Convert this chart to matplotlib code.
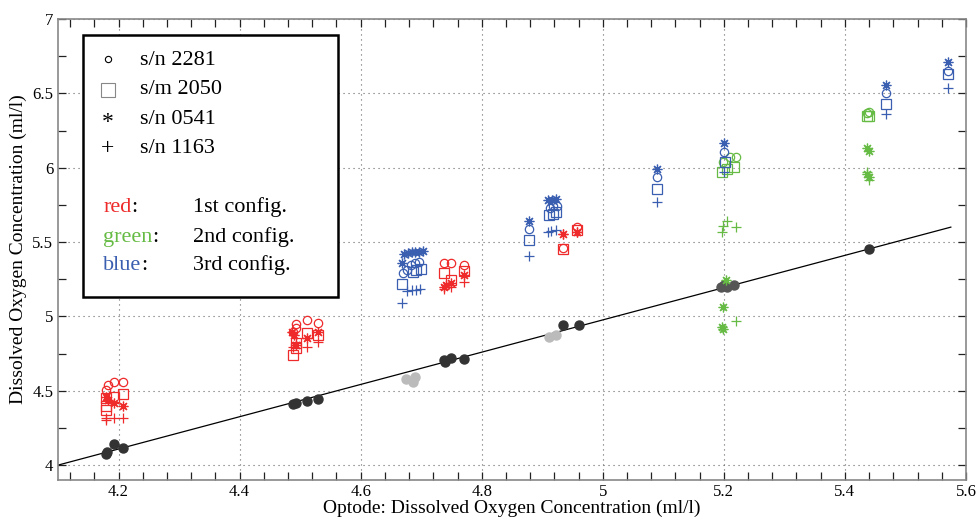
import matplotlib.pyplot as plt
from matplotlib.patches import Rectangle
from matplotlib.ticker import MultipleLocator

plt.rcParams['font.family'] = ['Liberation Serif', 'DejaVu Serif']

# reference (lab) values vs optode
ref_dark = [(4.18, 4.073), (4.181, 4.086), (4.192, 4.14), (4.208, 4.113),
            (4.489, 4.409), (4.493, 4.42), (4.512, 4.43), (4.53, 4.443),
            (4.737, 4.705), (4.739, 4.692), (4.749, 4.719), (4.77, 4.712),
            (4.935, 4.94), (4.96, 4.94), (5.44, 5.452)]
ref_light = [(4.675, 4.577), (4.686, 4.557), (4.69, 4.59),
             (4.911, 4.86), (4.922, 4.873)]
ref_mid = [(5.196, 5.197), (5.201, 5.21), (5.205, 5.2), (5.217, 5.21)]

fit_slope = 1.085
fit_intercept = -0.4485
fit_range = [4.1, 5.575]

# 1st config (red)
red_o = [(4.182, 4.537), (4.192, 4.557), (4.208, 4.557), (4.18, 4.503),
         (4.489, 4.893), (4.493, 4.947), (4.493, 4.92), (4.512, 4.975), (4.53, 4.954),
         (4.737, 5.358), (4.749, 5.358), (4.77, 5.345),
         (4.935, 5.462), (4.958, 5.60)]
red_s = [(4.18, 4.449), (4.18, 4.396), (4.18, 4.37), (4.192, 4.456), (4.208, 4.476),
         (4.489, 4.739), (4.493, 4.786), (4.493, 4.82), (4.512, 4.887), (4.53, 4.873),
         (4.737, 5.29), (4.749, 5.244), (4.77, 5.304),
         (4.935, 5.452), (4.958, 5.578)]
red_a = [(4.18, 4.456), (4.183, 4.435), (4.192, 4.42), (4.208, 4.40),
         (4.487, 4.893), (4.49, 4.873), (4.493, 4.806), (4.512, 4.853), (4.53, 4.893),
         (4.737, 5.197), (4.741, 5.21), (4.749, 5.224), (4.77, 5.277),
         (4.935, 5.553), (4.958, 5.565)]
red_p = [(4.18, 4.32), (4.18, 4.30), (4.192, 4.32), (4.208, 4.32),
         (4.489, 4.793), (4.493, 4.826), (4.512, 4.793), (4.53, 4.826),
         (4.737, 5.183), (4.749, 5.197), (4.77, 5.23),
         (4.935, 5.553), (4.958, 5.57)]

# 2nd config (green)
green_o = [(5.198, 6.04), (5.21, 6.07), (5.22, 6.07),
           (5.437, 6.37), (5.44, 6.375)]
green_s = [(5.197, 5.97), (5.205, 5.99), (5.217, 6.005),
           (5.437, 6.345), (5.44, 6.35)]
green_a = [(5.203, 5.244), (5.198, 5.06), (5.197, 4.927), (5.199, 4.913),
           (5.437, 6.13), (5.44, 6.11), (5.437, 5.96), (5.44, 5.94)]
green_p = [(5.197, 5.567), (5.199, 5.61), (5.205, 5.64), (5.22, 5.60),
           (5.22, 4.97), (5.437, 5.97), (5.44, 5.92)]

# 3rd config (blue)
blue_o = [(4.670, 5.29), (4.677, 5.31), (4.683, 5.345), (4.69, 5.358), (4.697, 5.365),
          (4.878, 5.587), (4.912, 5.73), (4.918, 5.74), (4.925, 5.745),
          (5.09, 5.935), (5.2, 6.105), (5.468, 6.50), (5.57, 6.65)]
blue_s = [(4.668, 5.217), (4.686, 5.297), (4.692, 5.31), (4.699, 5.318),
          (4.878, 5.513), (4.911, 5.68), (4.917, 5.69), (4.923, 5.70),
          (5.09, 5.86), (5.202, 6.04), (5.468, 6.43), (5.57, 6.63)]
blue_a = [(4.668, 5.358), (4.672, 5.42), (4.678, 5.425), (4.684, 5.43), (4.69, 5.432),
          (4.697, 5.435), (4.703, 5.438),
          (4.878, 5.64), (4.91, 5.78), (4.916, 5.785), (4.922, 5.79),
          (5.09, 5.99), (5.2, 6.165), (5.468, 6.556), (5.57, 6.71)]
blue_p = [(4.668, 5.09), (4.677, 5.17), (4.684, 5.176), (4.691, 5.18), (4.698, 5.185),
          (4.878, 5.405), (4.909, 5.567), (4.915, 5.572), (4.922, 5.578),
          (5.09, 5.77), (5.2, 5.97), (5.468, 6.36), (5.57, 6.535)]

RED = '#ee2a2a'
GREEN = '#66bb44'
BLUE = '#3a5eb0'

fig = plt.figure(figsize=(9.77, 5.18), dpi=100)
ax = fig.add_axes([0.0594, 0.0734, 0.9293, 0.8899])


def xy(pts):
    return [p[0] for p in pts], [p[1] for p in pts]


fx = fit_range
ax.plot(fx, [fit_slope * v + fit_intercept for v in fx], color='black', lw=0.9, zorder=2)

for pts, c in [(ref_dark, '#333333'), (ref_light, '#bbbbbb'), (ref_mid, '#555555')]:
    x, y = xy(pts)
    ax.plot(x, y, 'o', color=c, ms=6.5, mec=c, zorder=3)

asterisk = (8, 2, 0)
for col, o, s, a, p in [(RED, red_o, red_s, red_a, red_p),
                        (GREEN, green_o, green_s, green_a, green_p),
                        (BLUE, blue_o, blue_s, blue_a, blue_p)]:
    x, y = xy(o)
    ax.plot(x, y, 'o', mfc='none', mec=col, ms=6, mew=0.9, zorder=4)
    x, y = xy(s)
    ax.plot(x, y, 's', mfc='none', mec=col, ms=6.5, mew=0.9, zorder=4)
    x, y = xy(a)
    ax.plot(x, y, marker=asterisk, ls='none', color=col, ms=7, mew=0.9, zorder=4)
    x, y = xy(p)
    ax.plot(x, y, '+', color=col, ms=7.5, mew=0.9, zorder=4)

ax.set_xlim(4.1, 5.6)
ax.set_ylim(3.9, 7)
ax.set_xticks([4.2, 4.4, 4.6, 4.8, 5.0, 5.2, 5.4, 5.6])
ax.set_xticklabels(['4.2', '4.4', '4.6', '4.8', '5', '5.2', '5.4', '5.6'])
ax.set_yticks([4, 4.5, 5, 5.5, 6, 6.5, 7])
ax.set_yticklabels(['4', '4.5', '5', '5.5', '6', '6.5', '7'])
ax.xaxis.set_minor_locator(MultipleLocator(0.04))
ax.yaxis.set_minor_locator(MultipleLocator(0.25))
ax.tick_params(which='both', direction='in', top=True, right=True, length=6,
               width=0.9, labelsize=12, color='#222222')
ax.tick_params(axis='x', pad=3)
ax.grid(True, which='major', color='#666666', lw=0.8, ls=(0, (1, 3.5)))
for sp in ax.spines.values():
    sp.set_color('#888888')
    sp.set_linewidth(1.2)

ax.set_xlabel('Optode: Dissolved Oxygen Concentration (ml/l)', fontsize=14, labelpad=0)
ax.set_ylabel('Dissolved Oxygen Concentration (ml/l)', fontsize=14, labelpad=4)

# hand-drawn legend box
ax.add_patch(Rectangle((0.0275, 0.397), 0.2805, 0.568, transform=ax.transAxes,
                       fill=True, facecolor='white', edgecolor='black', lw=1.8, zorder=6))
tr = ax.transAxes
ax.plot([0.055], [0.914], 'o', mfc='none', mec='black', ms=4.5, mew=0.8, transform=tr, zorder=7)
ax.plot([0.055], [0.846], 's', mfc='none', mec='#888888', ms=10, mew=0.8, transform=tr, zorder=7)
ax.text(0.055, 0.775, '*', fontsize=17, ha='center', va='center', transform=tr, zorder=7)
ax.text(0.055, 0.72, '+', fontsize=17, ha='center', va='center', transform=tr, zorder=7)
names = ['s/n 2281', 's/m 2050', 's/n 0541', 's/n 1163']
for yy, n in zip([0.911, 0.846, 0.783, 0.72], names):
    ax.text(0.0903, yy, n, fontsize=16, va='center', transform=tr, zorder=7)
for yy, word, col, desc in [(0.592, 'red', RED, '1st config.'),
                            (0.527, 'green', GREEN, '2nd config.'),
                            (0.466, 'blue', BLUE, '3rd config.')]:
    t = ax.text(0.0496, yy, word, fontsize=16, color=col, va='center', transform=tr, zorder=7)
    fig.canvas.draw()
    bb = t.get_window_extent().transformed(tr.inverted())
    ax.text(bb.x1, yy, ':', fontsize=16, va='center', transform=tr, zorder=7)
    ax.text(0.1487, yy, desc, fontsize=16, va='center', transform=tr, zorder=7)

fig.savefig('out.png', dpi=100)
